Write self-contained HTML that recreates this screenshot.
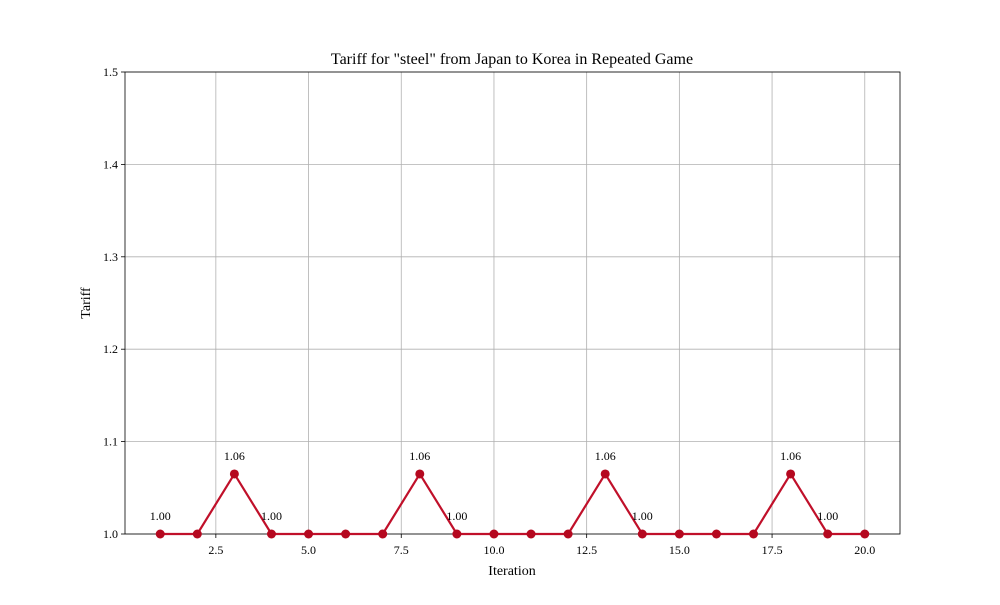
<!DOCTYPE html>
<html><head><meta charset="utf-8"><style>
body{margin:0;background:#fff}
svg text{font-family:"Liberation Serif",serif;fill:#000}
</style></head><body>
<svg id="chart" width="1000" height="600" xmlns="http://www.w3.org/2000/svg">
<text x="512" y="64" font-size="16" text-anchor="middle">Tariff for "steel" from Japan to Korea in Repeated Game</text>
<g id="grid"></g>
<g id="axes"></g>
<g id="series"></g>
<text x="512" y="575" font-size="14" text-anchor="middle">Iteration</text>
<text x="90" y="303" font-size="14" text-anchor="middle" transform="rotate(-90 90 303)">Tariff</text>
</svg>
<script>
const iterations=[1,2,3,4,5,6,7,8,9,10,11,12,13,14,15,16,17,18,19,20];
const tariffs=[1,1,1.065,1,1,1,1,1.065,1,1,1,1,1.065,1,1,1,1,1.065,1,1];
const pointLabels=["1.00","","1.06","1.00","","","","1.06","1.00","","","","1.06","1.00","","","","1.06","1.00",""];
const xTicks=[2.5,5.0,7.5,10.0,12.5,15.0,17.5,20.0];
const yTicks=[1.0,1.1,1.2,1.3,1.4,1.5];
const L=125,R=900,T=72,B=534,xmin=0.05,xmax=20.95,ymin=1.0,ymax=1.5;
const sx=v=>L+(v-xmin)/(xmax-xmin)*(R-L);
const sy=v=>B-(v-ymin)/(ymax-ymin)*(B-T);
const NS="http://www.w3.org/2000/svg";
function mk(tag,attrs,parent,txt){const e=document.createElementNS(NS,tag);for(const k in attrs)e.setAttribute(k,attrs[k]);if(txt!==undefined)e.textContent=txt;parent.appendChild(e);return e;}
const grid=document.getElementById('grid'),axes=document.getElementById('axes'),ser=document.getElementById('series');
xTicks.forEach(t=>{const x=sx(t);
 const g=mk('line',{x1:x,x2:x,y1:T,y2:B,stroke:'#b0b0b0','stroke-width':0.8},grid);
 
 mk('line',{x1:x,x2:x,y1:B,y2:B+4,stroke:'#000','stroke-width':0.8},axes);
 const l=mk('text',{x:x,y:B+20,'font-size':12,'text-anchor':'middle'},axes,t.toFixed(1));
 });
yTicks.forEach(t=>{const y=sy(t);
 const g=mk('line',{x1:L,x2:R,y1:y,y2:y,stroke:'#b0b0b0','stroke-width':0.8},grid);
 
 mk('line',{x1:L-4,x2:L,y1:y,y2:y,stroke:'#000','stroke-width':0.8},axes);
 const l=mk('text',{x:L-7,y:y+4,'font-size':12,'text-anchor':'end'},axes,t.toFixed(1));
 });
const f=mk('rect',{x:L,y:T,width:R-L,height:B-T,fill:'none',stroke:'#000','stroke-width':0.8},axes);

const pts=iterations.map((v,i)=>sx(v)+','+sy(tariffs[i])).join(' ');
const pl=mk('polyline',{points:pts,fill:'none',stroke:'#c0102a','stroke-width':2.2},ser);

iterations.forEach((v,i)=>{
 const c=mk('circle',{cx:sx(v),cy:sy(tariffs[i]),r:4.5,fill:'#b5081f'},ser);
 
 if(pointLabels[i]){const t=mk('text',{x:sx(v),y:sy(tariffs[i])-14,'font-size':12,'text-anchor':'middle'},ser,pointLabels[i]);
 }
});
</script>
</body></html>
